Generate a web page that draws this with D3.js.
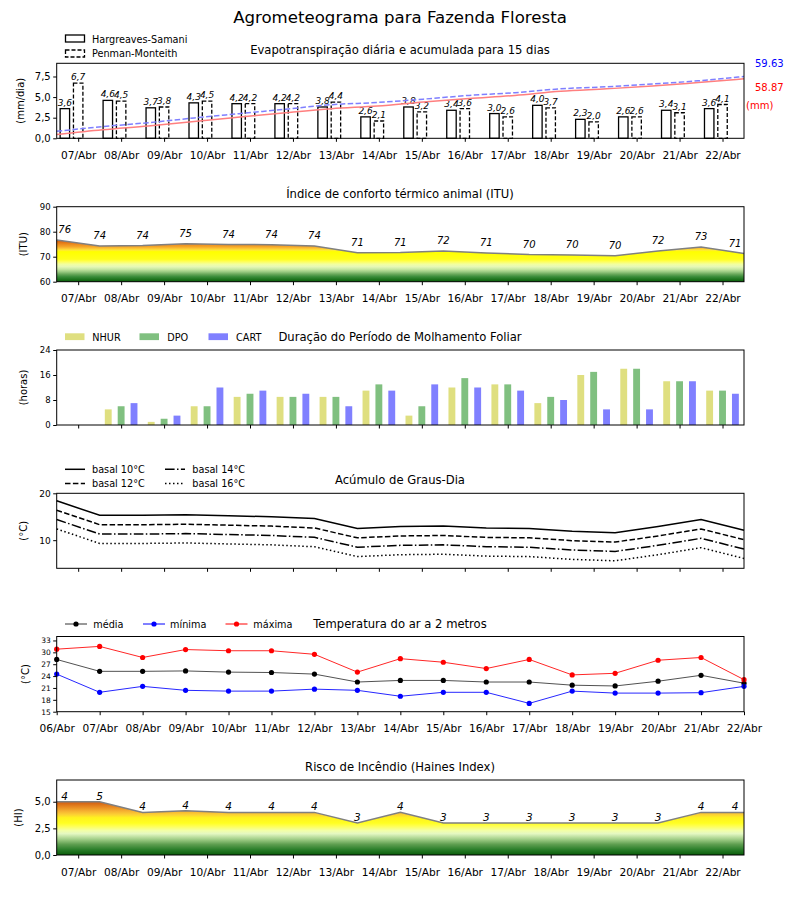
<!DOCTYPE html>
<html><head><meta charset="utf-8">
<script src="https://cdn.jsdelivr.net/npm/d3@7"></script>
<style>body{margin:0;background:#fff} text{font-family:"DejaVu Sans",sans-serif;fill:#000}</style>
</head><body><svg id="c" width="800" height="900"></svg>
<script>
// ---------- DATA ----------
const days = ["07/Abr","08/Abr","09/Abr","10/Abr","11/Abr","12/Abr","13/Abr","14/Abr","15/Abr","16/Abr","17/Abr","18/Abr","19/Abr","20/Abr","21/Abr","22/Abr"];
const edgeDays = ["06/Abr","07/Abr","08/Abr","09/Abr","10/Abr","11/Abr","12/Abr","13/Abr","14/Abr","15/Abr","16/Abr","17/Abr","18/Abr","19/Abr","20/Abr","21/Abr","22/Abr"];
const etHS = [3.6,4.6,3.7,4.3,4.2,4.2,3.8,2.6,3.8,3.4,3.0,4.0,2.3,2.6,3.4,3.6];
const etPM = [6.7,4.5,3.8,4.5,4.2,4.2,4.4,2.1,3.2,3.6,2.6,3.7,2.0,2.6,3.1,4.1];
const totalHS = "58.87", totalPM = "59.63";
const ituValues = [76.7,74.3,74.5,75.2,74.9,74.8,74.3,71.6,71.7,72.3,71.5,70.9,70.7,70.4,72.3,73.9,71.3];
const ituLabels = [76,74,74,75,74,74,74,71,71,72,71,70,70,70,72,73,71];
const nhur = [0,5,1,6,9,9,9,11,3,12,13,7,16,18,14,11];
const dpo  = [0,6,2,6,10,9,9,13,6,15,13,9,17,18,14,11];
const cart = [0,7,3,12,11,10,6,11,13,12,11,8,5,5,14,10];
const gd10 = [18.4,15.3,15.3,15.4,15.2,15.0,14.6,12.5,12.9,13.0,12.6,12.5,11.9,11.6,12.9,14.4,12.1];
const gd12 = [16.4,13.3,13.3,13.4,13.2,13.0,12.6,10.5,10.9,11.0,10.6,10.5,9.9,9.6,10.9,12.4,10.1];
const gd14 = [14.4,11.3,11.3,11.4,11.2,11.0,10.6,8.5,8.9,9.0,8.6,8.5,7.9,7.6,8.9,10.4,8.1];
const gd16 = [12.4,9.3,9.3,9.4,9.2,9.0,8.6,6.5,6.9,7.0,6.6,6.5,5.9,5.6,6.9,8.4,6.1];
const tMed = [28.2,25.2,25.2,25.3,25.0,24.9,24.5,22.5,22.9,22.9,22.5,22.5,21.7,21.5,22.7,24.2,22.2];
const tMin = [24.5,19.9,21.4,20.4,20.2,20.2,20.7,20.4,18.9,19.9,19.9,17.1,20.2,19.7,19.7,19.8,21.4];
const tMax = [30.8,31.5,28.7,30.7,30.4,30.4,29.5,25.0,28.4,27.5,25.9,28.2,24.3,24.7,28.0,28.7,23.1];
const hiValues = [5,5,4,4.15,4,4,4,3,4,3,3,3,3,3,3,4,4];
const hiLabels = [4,5,4,4,4,4,4,3,4,3,3,3,3,3,3,4,4];

// ---------- LAYOUT ----------
const svg = d3.select("#c");
const L = 56.7, R = 744;
const x = d3.scaleLinear().domain([-0.5,15.5]).range([L,R]);   // day centres
const xe = d3.scaleLinear().domain([0,16]).range([L,R]);        // day edges
const comma = v => d3.format(".1f")(v).replace(".", ",");

svg.append("text").attr("x",400).attr("y",17).attr("text-anchor","middle")
  .attr("dominant-baseline","central").style("font-size","16.6px").text("Agrometeograma para Fazenda Floresta");

function panel(top, bottom, ydom, opt) {
  const g = svg.append("g");
  const y = d3.scaleLinear().domain(ydom).range([bottom, top]);
  const content = g.append("g");
  g.append("text").attr("x", 400).attr("y", top - 13).attr("text-anchor","middle")
    .attr("dominant-baseline","central").style("font-size","11.6px").text(opt.title);
  const ya = g.append("g").attr("transform",`translate(${L},0)`)
    .call(d3.axisLeft(y).tickValues(opt.yticks).tickFormat(opt.yfmt || (d=>d)).tickSize(3.5).tickPadding(2.5));
  ya.select(".domain").remove();
  ya.selectAll("text").style("font-size", opt.yfs + "px").style("font-family","DejaVu Sans");
  ya.selectAll("line").attr("stroke","#000");
  const xa = g.append("g").attr("transform",`translate(0,${bottom})`);
  if (opt.edges) {
    xa.call(d3.axisBottom(xe).tickValues(d3.range(17)).tickFormat(i=>edgeDays[i]).tickSize(3.5).tickPadding(9));
  } else {
    xa.call(d3.axisBottom(x).tickValues(d3.range(16)).tickFormat(i=>opt.xlabels ? days[i] : "").tickSize(3.5).tickPadding(9.5));
  }
  xa.select(".domain").remove();
  xa.selectAll("text").style("font-size","10.6px").style("font-family","DejaVu Sans");
  g.append("text").attr("transform",`translate(${opt.ylabX},${(top+bottom)/2}) rotate(-90)`)
    .attr("text-anchor","middle").attr("dominant-baseline","central").style("font-size","10px").text(opt.ylab);
  g.append("rect").attr("x",L).attr("y",top).attr("width",R-L).attr("height",bottom-top)
    .attr("fill","none").attr("stroke","#000").attr("stroke-width",1);
  return {g: content, y, top, bottom};
}

function gradient(id, y, stops) {
  let defs = svg.select("defs");
  if (defs.empty()) defs = svg.append("defs");
  const v0 = stops[0][0], v1 = stops[stops.length-1][0];
  const gr = defs.append("linearGradient").attr("id",id).attr("gradientUnits","userSpaceOnUse")
    .attr("x1",0).attr("x2",0).attr("y1",y(v0)).attr("y2",y(v1));
  stops.forEach(s => gr.append("stop").attr("offset",(s[0]-v0)/(v1-v0)).attr("stop-color",s[1]));
}

// ---------- PANEL 1: ET ----------
{
  const p = panel(63.3, 138.3, [0, 9.1], {title:"Evapotranspiração diária e acumulada para 15 dias",
    yticks:[0,2.5,5,7.5], yfmt:comma, yfs:10, ylab:"(mm/dia)", ylabX:20, xlabels:true});
  const bw = x(0.22) - x(0);
  p.g.selectAll(".hs").data(etHS).join("rect").attr("x",(d,i)=>x(i-0.31)-bw/2).attr("y",d=>p.y(d))
    .attr("width",bw).attr("height",d=>p.y(0)-p.y(d)).attr("fill","#fff").attr("stroke","#000").attr("stroke-width",1.3);
  p.g.selectAll(".pm").data(etPM).join("rect").attr("x",(d,i)=>x(i)-bw/2).attr("y",d=>p.y(d))
    .attr("width",bw).attr("height",d=>p.y(0)-p.y(d)).attr("fill","#fff").attr("stroke","#000").attr("stroke-width",1.3)
    .attr("stroke-dasharray","4,2");
  p.g.selectAll(".hsl").data(etHS).join("text").attr("x",(d,i)=>x(i-0.31)).attr("y",d=>p.y(d)-3)
    .attr("text-anchor","middle").style("font-size","9px").style("font-style","italic").text(comma);
  p.g.selectAll(".pml").data(etPM).join("text").attr("x",(d,i)=>x(i)).attr("y",d=>p.y(d)-3)
    .attr("text-anchor","middle").style("font-size","9px").style("font-style","italic").text(comma);
  const y2 = d3.scaleLinear().domain([0,72]).range([p.bottom, p.top]);
  const xc = d3.scaleLinear().domain([0,15]).range([L,R]);
  const cHS = Array.from(d3.cumsum(etHS)), cPM = Array.from(d3.cumsum(etPM));
  const ln = d3.line().x((d,i)=>xc(i)).y(d=>y2(d)).curve(d3.curveMonotoneX);
  p.g.append("path").attr("d",ln(cHS)).attr("fill","none").attr("stroke","#ff7f7f").attr("stroke-width",1.5);
  p.g.append("path").attr("d",ln(cPM)).attr("fill","none").attr("stroke","#7f7fff").attr("stroke-width",1.5).attr("stroke-dasharray","5.5,2.4");
  svg.append("text").attr("x",755).attr("y",63).attr("dominant-baseline","central").style("font-size","10px").style("fill","#0000ff").text(totalPM);
  svg.append("text").attr("x",755).attr("y",87).attr("dominant-baseline","central").style("font-size","10px").style("fill","#ff0000").text(totalHS);
  svg.append("text").attr("x",746).attr("y",105.5).attr("dominant-baseline","central").style("font-size","10px").style("fill","#ff0000").text("(mm)");
  const lg = svg.append("g");
  lg.append("rect").attr("x",65.5).attr("y",35).attr("width",19).attr("height",7).attr("fill","#fff").attr("stroke","#000").attr("stroke-width",1.3);
  lg.append("rect").attr("x",65.5).attr("y",50).attr("width",19).attr("height",7).attr("fill","#fff").attr("stroke","#000").attr("stroke-width",1.3).attr("stroke-dasharray","4,2");
  lg.append("text").attr("x",92).attr("y",39).attr("dominant-baseline","central").style("font-size","9.7px").text("Hargreaves-Samani");
  lg.append("text").attr("x",92).attr("y",53.5).attr("dominant-baseline","central").style("font-size","9.7px").text("Penman-Monteith");
}

// ---------- PANEL 2: ITU ----------
{
  const p = panel(206.7, 281.7, [60, 90], {title:"Índice de conforto térmico animal (ITU)",
    yticks:[60,70,80,90], yfs:8.5, ylab:"(ITU)", ylabX:23, xlabels:true});
  gradient("gItu", p.y, [[60,"#0a5c0a"],[61,"#1f761f"],[62,"#3a8c3a"],[63,"#68a85a"],[64,"#9ccc84"],[65,"#c8e8a2"],
    [66,"#e6f8b6"],[67,"#f2ffa0"],[68,"#ffff5a"],[69,"#ffff1a"],[72,"#ffff00"],[72.6,"#ffe838"],[73.3,"#fcc434"],
    [74,"#f5a628"],[75,"#ec8a1c"],[76,"#de6c12"],[77,"#cc520a"]]);
  const area = d3.area().x((d,i)=>xe(i)).y0(p.y(60)).y1(d=>p.y(d));
  const line = d3.line().x((d,i)=>xe(i)).y(d=>p.y(d));
  p.g.append("path").attr("d",area(ituValues)).attr("fill","url(#gItu)");
  p.g.append("path").attr("d",line(ituValues)).attr("fill","none").attr("stroke","#808080").attr("stroke-width",1.5);
  p.g.selectAll(".l").data(ituValues).join("text")
    .attr("x",(d,i)=>Math.min(R-9, Math.max(L+8, xe(i)))).attr("y",d=>p.y(d)-10)
    .attr("text-anchor","middle").attr("dominant-baseline","central").style("font-size","10px").style("font-style","italic")
    .text((d,i)=>ituLabels[i]);
}

// ---------- PANEL 3: Molhamento ----------
{
  const p = panel(350, 425, [0, 24], {title:"Duração do Período de Molhamento Foliar",
    yticks:[0,8,16,24], yfs:8.5, ylab:"(horas)", ylabX:23, xlabels:false});
  const bw = x(0.16) - x(0);
  const series = [[nhur,"#dfdf80",-0.3],[dpo,"#80c080",0],[cart,"#8080ff",0.3]];
  series.forEach(([arr,col,off]) => {
    p.g.append("g").selectAll("rect").data(arr).join("rect")
      .attr("x",(d,i)=>x(i+off)-bw/2).attr("y",d=>p.y(d)).attr("width",bw).attr("height",d=>p.y(0)-p.y(d)).attr("fill",col);
  });
  const names = [["NHUR","#dfdf80",65,92.3],["DPO","#80c080",139.5,167.3],["CART","#8080ff",208.5,236]];
  names.forEach(([n,c,rx,tx]) => {
    svg.append("rect").attr("x",rx).attr("y",333.3).attr("width",19.5).attr("height",6.8).attr("fill",c);
    svg.append("text").attr("x",tx).attr("y",337).attr("dominant-baseline","central").style("font-size","9.7px").text(n);
  });
}

// ---------- PANEL 4: Graus-dia ----------
{
  const p = panel(493.3, 568.3, [4.0, 20], {title:"Acúmulo de Graus-Dia",
    yticks:[10,20], yfs:9, ylab:"(°C)", ylabX:23, xlabels:false});
  const line = d3.line().x((d,i)=>xe(i)).y(d=>p.y(d));
  const styles = [[gd10,null,"basal 10°C",65,92,469.3],[gd12,"5.5,2.4","basal 12°C",65,92,483.5],
                  [gd14,"9.6,2.4,1.5,2.4","basal 14°C",165,192.3,469.3],[gd16,"1.5,2.5","basal 16°C",165,192.3,483.5]];
  styles.forEach(([arr,dash,name,lx,tx,ly]) => {
    p.g.append("path").attr("d",line(arr)).attr("fill","none").attr("stroke","#000").attr("stroke-width",1.5)
      .attr("stroke-dasharray",dash);
    svg.append("line").attr("x1",lx).attr("x2",lx+20).attr("y1",ly).attr("y2",ly).attr("stroke","#000").attr("stroke-width",1.5).attr("stroke-dasharray",dash);
    svg.append("text").attr("x",tx).attr("y",ly).attr("dominant-baseline","central").style("font-size","9.7px").text(name);
  });
}

// ---------- PANEL 5: Temperatura ----------
{
  const p = panel(636.5, 711.7, [15, 34], {title:"Temperatura do ar a 2 metros",
    yticks:[15,18,21,24,27,30,33], yfs:7.5, ylab:"(°C)", ylabX:25, edges:true});
  const line = d3.line().x((d,i)=>xe(i)).y(d=>p.y(d));
  const ser = [[tMed,"#000","#333","média",65,93.3],[tMin,"#0000ff","#0000ff","mínima",143,170],[tMax,"#ff0000","#ff0000","máxima",225.5,253.3]];
  ser.forEach(([arr,col,lcol,name,lx,tx]) => {
    p.g.append("path").attr("d",line(arr)).attr("fill","none").attr("stroke",lcol).attr("stroke-width",1).attr("stroke-opacity",0.85);
    p.g.append("g").selectAll("circle").data(arr).join("circle").attr("cx",(d,i)=>xe(i)).attr("cy",d=>p.y(d)).attr("r",2.6).attr("fill",col);
    svg.append("line").attr("x1",lx).attr("x2",lx+22).attr("y1",624).attr("y2",624).attr("stroke",lcol).attr("stroke-width",1);
    svg.append("circle").attr("cx",lx+11).attr("cy",624).attr("r",2.6).attr("fill",col);
    svg.append("text").attr("x",tx).attr("y",624).attr("dominant-baseline","central").style("font-size","9.7px").text(name);
  });
}

// ---------- PANEL 6: Haines ----------
{
  const p = panel(780, 855, [0, 7.04], {title:"Risco de Incêndio (Haines Index)",
    yticks:[0,2.5,5], yfmt:comma, yfs:10, ylab:"(HI)", ylabX:18, xlabels:true});
  gradient("gHi", p.y, [[0,"#0a5c0a"],[0.5,"#2a7e2a"],[1.0,"#5e9e50"],[1.5,"#a4d08a"],[2.0,"#e4f8c2"],[2.3,"#f2ffa6"],
    [2.7,"#ffff55"],[3.0,"#ffff22"],[3.5,"#fff21e"],[3.8,"#fcd034"],[4.1,"#f6b232"],[4.5,"#e88a22"],[5.0,"#d05a10"]]);
  const area = d3.area().x((d,i)=>xe(i)).y0(p.y(0)).y1(d=>p.y(d));
  const line = d3.line().x((d,i)=>xe(i)).y(d=>p.y(d));
  p.g.append("path").attr("d",area(hiValues)).attr("fill","url(#gHi)");
  p.g.append("path").attr("d",line(hiValues)).attr("fill","none").attr("stroke","#808080").attr("stroke-width",1.5);
  p.g.selectAll(".l").data(hiValues).join("text")
    .attr("x",(d,i)=>Math.min(R-9, Math.max(L+8, xe(i)))).attr("y",d=>p.y(d)-6)
    .attr("text-anchor","middle").attr("dominant-baseline","central").style("font-size","10.5px").style("font-style","italic")
    .text((d,i)=>hiLabels[i]);
}
</script></body></html>
